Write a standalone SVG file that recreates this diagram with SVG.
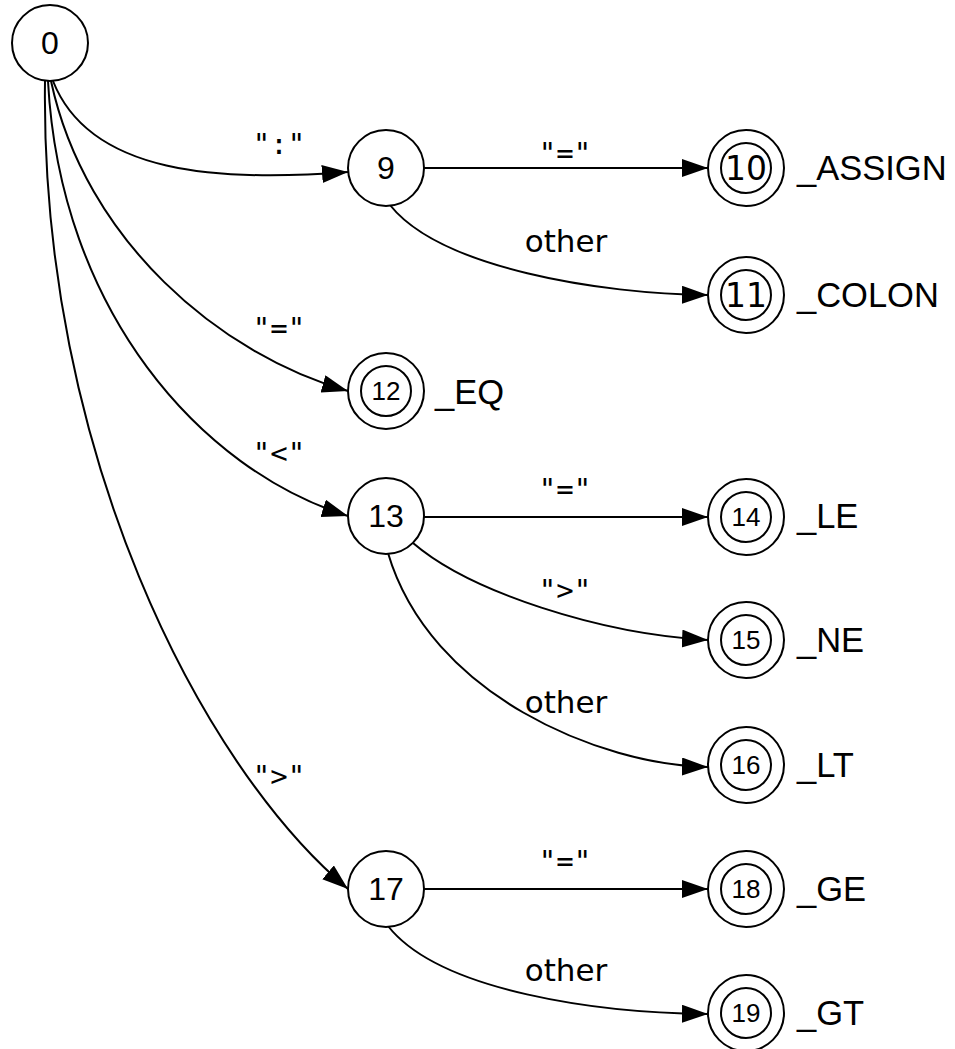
<svg xmlns="http://www.w3.org/2000/svg" width="955" height="1049" viewBox="0 0 955 1049">
  <style>
    .st { fill: #fff; stroke: #000; stroke-width: 2; }
    .num { font-family: "Liberation Sans", Arial, sans-serif; font-size: 32px; text-anchor: middle; fill: #000; }
    .num-s { font-family: "Liberation Sans", Arial, sans-serif; font-size: 26px; text-anchor: middle; fill: #000; }
    .num-l { font-family: "DejaVu Sans", Verdana, sans-serif; font-size: 33px; text-anchor: middle; fill: #000; }
    .tok { font-family: "Liberation Sans", Arial, sans-serif; font-size: 34.5px; fill: #000; }
    .lbl { font-family: "DejaVu Sans Mono", "Liberation Mono", monospace; font-size: 29px; text-anchor: middle; fill: #000; }
    .lbl-t { font-family: "DejaVu Sans", Verdana, sans-serif; font-size: 31px; text-anchor: middle; fill: #000; }
    .edge { fill: none; stroke: #000; stroke-width: 2; marker-end: url(#arrow); }
  </style>
  <defs>
    <marker id="arrow" markerUnits="userSpaceOnUse" markerWidth="28" markerHeight="20" refX="26" refY="9" orient="auto">
      <path d="M0,0 L26,9 L0,18 z" fill="#000"/>
    </marker>
  </defs>

  <!-- transitions, each followed by its input label -->
  <g id="edges">
    <path class="edge" d="M53,81 C90,175 220,182 348,172"/>
    <text class="lbl" x="279" y="154">":"</text>

    <path class="edge" d="M424,168 L708,168"/>
    <text class="lbl" x="565" y="163">"="</text>

    <path class="edge" d="M390,205 C440,268 600,294 708,295"/>
    <text class="lbl-t" x="566" y="252">other</text>

    <path class="edge" d="M51,81 C85,240 220,355 348,391"/>
    <text class="lbl" x="279" y="338">"="</text>

    <path class="edge" d="M48,81 C60,310 200,470 348,516"/>
    <text class="lbl" x="279" y="463">"&lt;"</text>

    <path class="edge" d="M424,517 L708,517"/>
    <text class="lbl" x="565" y="499">"="</text>

    <path class="edge" d="M413,543 C470,592 600,634 708,640"/>
    <text class="lbl" x="565" y="600">"&gt;"</text>

    <path class="edge" d="M388,553 C430,695 600,765 708,767"/>
    <text class="lbl-t" x="566" y="713">other</text>

    <path class="edge" d="M45,81 C40,450 200,765 348,889"/>
    <text class="lbl" x="279" y="786">"&gt;"</text>

    <path class="edge" d="M424,889 L708,889"/>
    <text class="lbl" x="565" y="871">"="</text>

    <path class="edge" d="M388,926 C440,992 600,1013 708,1014"/>
    <text class="lbl-t" x="566" y="981">other</text>
  </g>

  <!-- plain states -->
  <g id="n0">
    <circle class="st" cx="50" cy="43" r="38"/>
    <text class="num" x="50" y="54">0</text>
  </g>
  <g id="n9">
    <circle class="st" cx="386" cy="168" r="38"/>
    <text class="num" x="386" y="179">9</text>
  </g>
  <g id="n13">
    <circle class="st" cx="386" cy="516" r="38"/>
    <text class="num" x="386" y="527">13</text>
  </g>
  <g id="n17">
    <circle class="st" cx="386" cy="889" r="38"/>
    <text class="num" x="386" y="900">17</text>
  </g>

  <!-- accepting states with their token names -->
  <g id="n10">
    <circle class="st" cx="746" cy="168" r="38"/>
    <circle class="st" cx="746" cy="168" r="25"/>
    <text class="num-l" x="746" y="180">10</text>
    <text class="tok" x="797" y="180">_ASSIGN</text>
  </g>
  <g id="n11">
    <circle class="st" cx="746" cy="295" r="38"/>
    <circle class="st" cx="746" cy="295" r="25"/>
    <text class="num-l" x="746" y="307">11</text>
    <text class="tok" x="797" y="307">_COLON</text>
  </g>
  <g id="n12">
    <circle class="st" cx="386" cy="391" r="38"/>
    <circle class="st" cx="386" cy="391" r="25"/>
    <text class="num-s" x="386" y="400">12</text>
    <text class="tok" x="435" y="404">_EQ</text>
  </g>
  <g id="n14">
    <circle class="st" cx="746" cy="517" r="38"/>
    <circle class="st" cx="746" cy="517" r="25"/>
    <text class="num-s" x="746" y="526">14</text>
    <text class="tok" x="797" y="528">_LE</text>
  </g>
  <g id="n15">
    <circle class="st" cx="746" cy="640" r="38"/>
    <circle class="st" cx="746" cy="640" r="25"/>
    <text class="num-s" x="746" y="649">15</text>
    <text class="tok" x="797" y="652">_NE</text>
  </g>
  <g id="n16">
    <circle class="st" cx="746" cy="765" r="38"/>
    <circle class="st" cx="746" cy="765" r="25"/>
    <text class="num-s" x="746" y="774">16</text>
    <text class="tok" x="797" y="777">_LT</text>
  </g>
  <g id="n18">
    <circle class="st" cx="746" cy="889" r="38"/>
    <circle class="st" cx="746" cy="889" r="25"/>
    <text class="num-s" x="746" y="898">18</text>
    <text class="tok" x="797" y="901">_GE</text>
  </g>
  <g id="n19">
    <circle class="st" cx="746" cy="1013" r="38"/>
    <circle class="st" cx="746" cy="1013" r="25"/>
    <text class="num-s" x="746" y="1022">19</text>
    <text class="tok" x="797" y="1025">_GT</text>
  </g>
</svg>
